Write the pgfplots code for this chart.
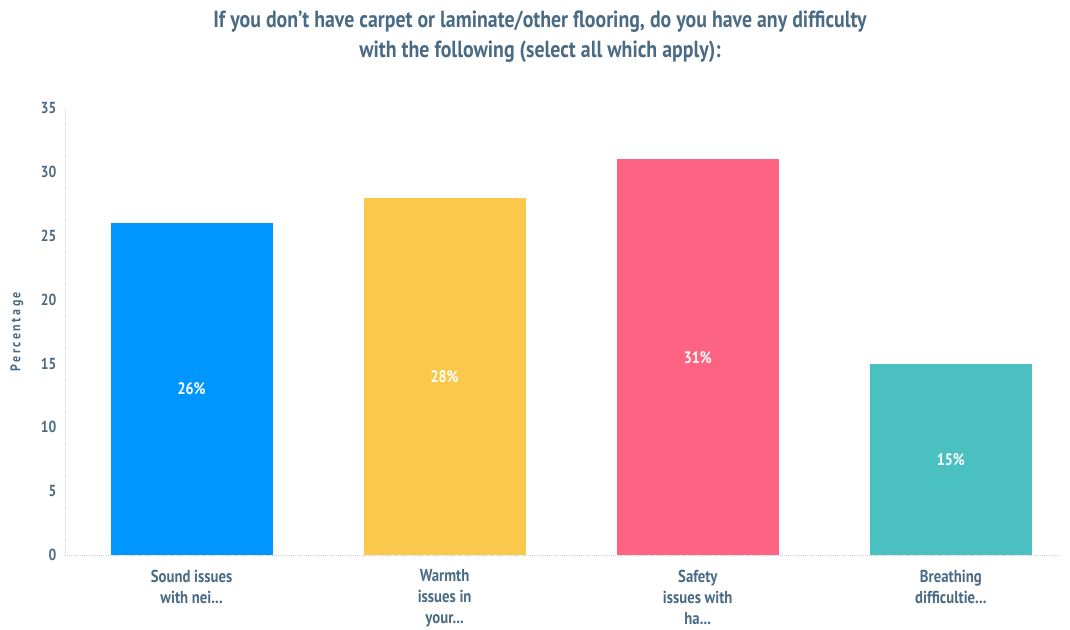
\documentclass[border=0pt]{standalone}
\usepackage{fontspec}
\setmainfont{PT Sans}[FakeStretch=0.85]
\usepackage{pgfplots}
\pgfplotsset{compat=1.18}
\definecolor{txt}{HTML}{4A6B85}
\definecolor{cblue}{HTML}{0096FF}
\definecolor{cyel}{HTML}{FCC84C}
\definecolor{cpink}{HTML}{FF6384}
\definecolor{cteal}{HTML}{4BC0C0}
\definecolor{gridc}{HTML}{D0D0D0}
\begin{document}
\begin{tikzpicture}
\useasboundingbox (0,0) rectangle (802.5pt,472.5pt);
\node[text=txt,font=\bfseries\fontsize{17.5}{22.5}\selectfont,align=center] at (405pt,444.75pt) {If you don’t have carpet or laminate/other flooring, do you have any difficulty\\with the following (select all which apply):};
\begin{axis}[
  at={(48.75pt,56.25pt)}, anchor=south west,
  scale only axis, width=746pt, height=335pt,
  xmin=-0.5, xmax=3.43, ymin=0, ymax=35,
  ytick={0,5,10,15,20,25,30,35},
  xtick={0,1,2,3},
  xticklabels={{Sound issues\\with nei{.}{.}{.}},{Warmth\\issues in\\your{.}{.}{.}},{Safety\\issues with\\ha{.}{.}{.}},{Breathing\\difficultie{.}{.}{.}}},
  xticklabel style={align=center, text=txt, font=\bfseries\fontsize{13}{15.8}\selectfont, yshift=-7.5pt},
  yticklabel style={text=txt, font=\bfseries\fontsize{12}{14}\selectfont, xshift=-3pt},
  /pgf/number format/assume math mode=true,
  major tick length=0pt,
  axis x line*=bottom, axis y line*=left,
  axis line style={gridc, densely dotted, line width=0.6pt},
  ylabel={\addfontfeatures{LetterSpace=18}Percentage},
  ylabel style={text=txt, font=\bfseries\fontsize{10.5}{12}\selectfont, at={(axis description cs:0,0.5)}, anchor=center, yshift=36pt},
  bar width=121.5pt, bar shift=0pt,
  visualization depends on={0.5*y \as \half},
  nodes near coords={\pgfmathprintnumber{\pgfplotspointmeta}\%},
  every node near coord/.append style={anchor=center, text=white, font=\bfseries\fontsize{12.5}{14}\selectfont, shift={(axis direction cs:0,-\half)}},
  clip=false,
]
\addplot[ybar, fill=cblue, draw=none] coordinates {(0,26)};
\addplot[ybar, fill=cyel, draw=none] coordinates {(1,28)};
\addplot[ybar, fill=cpink, draw=none] coordinates {(2,31)};
\addplot[ybar, fill=cteal, draw=none] coordinates {(3,15)};
\end{axis}
\end{tikzpicture}
\end{document}
